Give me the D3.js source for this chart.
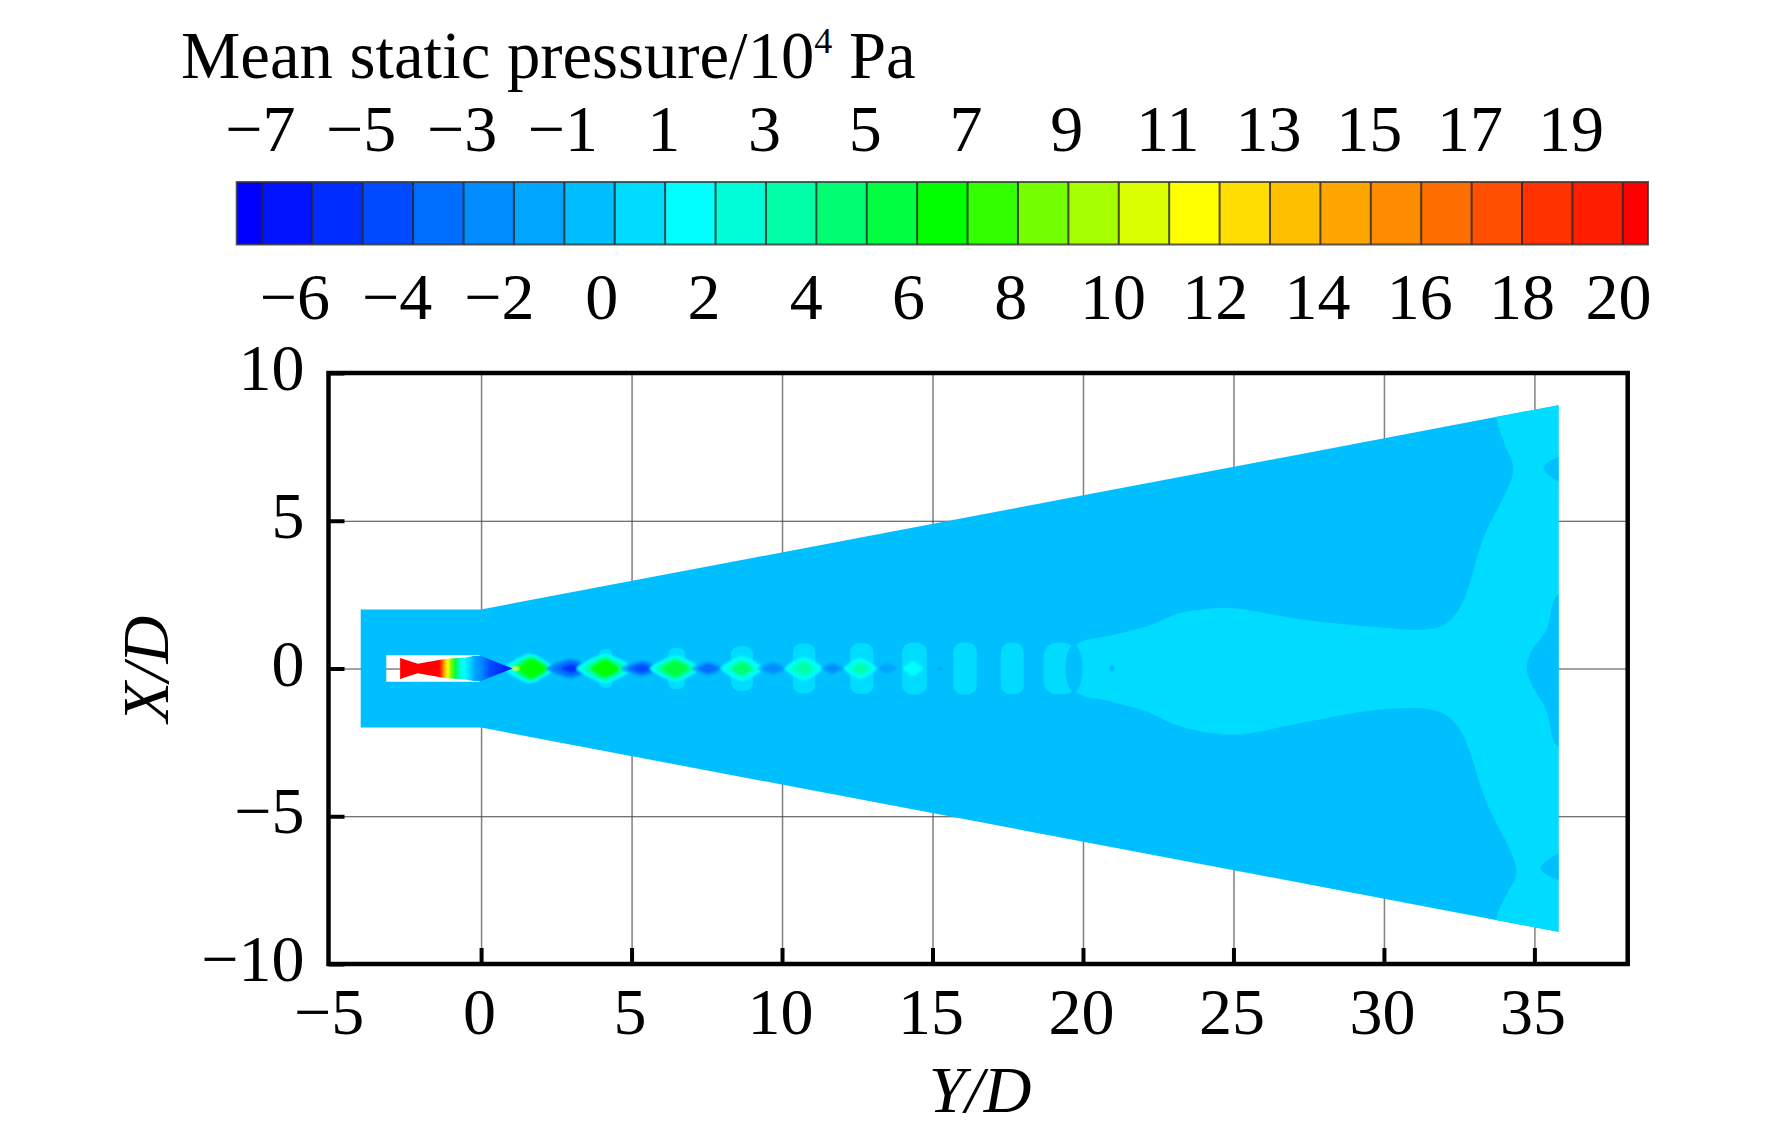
<!DOCTYPE html>
<html>
<head>
<meta charset="utf-8">
<script src="https://d3js.org/d3.v7.min.js"></script>
<style>
  html, body { margin: 0; padding: 0; background: #fff; }
  text { font-family: "Liberation Serif", serif; fill: #000; }
  .gridV line { stroke: #808080; stroke-width: 1.5; }
  .gridH line { stroke: #444; stroke-width: 1.1; }
  .ticks line { stroke: #000; stroke-width: 4; }
  .domain { display: none; }
</style>
</head>
<body>
<div id="chart"></div>
<script>
// colour bar: one colour per cell
const palette = ["#0000ff","#0014ff","#002dff","#004bff","#006eff","#008cff","#00a5ff","#00bfff","#00dcff","#00ffff",
  "#00ffd9","#00ffa6","#00ff73","#00ff40","#00ff00",
  "#33ff00","#73ff00","#a6ff00","#d9ff00","#ffff00","#ffdd00","#ffbf00","#ffa600","#ff8c00","#ff6e00","#ff4f00","#ff3200","#ff1e00","#ff0000"];
const levels = d3.range(-7, 21);
const oddLabels = [-7,-5,-3,-1,1,3,5,7,9,11,13,15,17,19];
const evenLabels = [-6,-4,-2,0,2,4,6,8,10,12,14,16,18,20];
const xTicks = [-5,0,5,10,15,20,25,30,35];
const yTicks = [-10,-5,0,5,10];

// flow domain outline, [Y/D, X/D]
const domainX = [-4, 0, 35.8];
const domainHalf = [2, 2, 8.91];
const nozzleCavity = [[-3.15,0.45],[-0.05,0.45],[-0.05,-0.45],[-3.15,-0.45]];

// nozzle jet: half width along the axis
const jetX = [-2.69,-2.62,-2.1,-1.36,-1.03,-0.5,-0.26,0,0.5,1.05];
const jetHalf = [0.36,0.33,0.16,0.3,0.34,0.37,0.42,0.42,0.22,0];
// nozzle jet: pressure level along the axis
const jetLevelX = [-1.4,-1.3,-1.2,-1.1,-1,-0.85,-0.7,-0.55,-0.4,-0.2,0,0.3,0.7,1.05];
const jetLevel = [20,17,13,11,8,5,2,1,0,-1.5,-3,-4.5,-6,-7];

// far field 0..1 region (level 0.5)
const lightTop = [[19.73,0.74],[21,1.13],[22.1,1.41],[23.2,1.87],[24,2.0],[24.9,2.05],[27.2,1.67],[29.8,1.4],[31.5,1.33],[32.1,1.55],[32.6,2.2],[33.3,4.4],[34.3,6.73],[34.05,7.5],[33.75,8.42],[33.75,9.6],[36.6,9.6]];
const lightBottom = [[36.6,-9.6],[33.75,-9.6],[33.75,-8.4],[34.1,-7.6],[34.4,-6.86],[33.4,-4.5],[32.6,-2.2],[32.1,-1.6],[31.5,-1.38],[29.8,-1.4],[27.2,-1.85],[24.95,-2.24],[23.2,-1.95],[22.1,-1.45],[21,-1.13],[19.73,-0.74]];
// low pressure pockets on the outlet (level -0.5)
const outletPockets = [
  [[36.4,2.46],[35.75,2.46],[35.4,1.3],[34.9,0.58],[34.74,0],[34.9,-0.52],[35.4,-1.43],[35.75,-2.6],[36.4,-2.6]],
  [[36.4,7.15],[35.8,7.15],[35.3,6.8],[35.8,6.34],[36.4,6.34]],
  [[36.4,-6.28],[35.8,-6.28],[35.2,-6.77],[35.8,-7.15],[36.4,-7.15]]
];

// shock cell lobes, level 0.5: centre, half width, half height
const lobes = [[1.75,0.22,0.47],[4.14,0.22,0.66],[6.5,0.28,0.7],[8.67,0.37,0.76],[10.73,0.37,0.85],[12.65,0.39,0.86],[14.4,0.41,0.88],[16.08,0.39,0.88],[17.65,0.38,0.87],[19.24,0.55,0.87]];
const innerPocket = [19.7, 0.28, 0.8];

// compression and expansion cores: centre, half width, half height, level
const cores = [
  [1.6,0.85,0.5,1.5],[1.65,0.65,0.42,4],[1.7,0.5,0.34,6.5],[1.15,0.12,0.05,11.5],
  [2.96,0.8,0.33,-2.5],[2.98,0.6,0.26,-4],[3,0.35,0.14,-6],
  [4.12,0.95,0.5,1],[4.12,0.75,0.42,3.5],[4.12,0.5,0.32,6],
  [5.34,0.7,0.3,-2],[5.34,0.5,0.22,-3.5],[5.34,0.3,0.13,-5],
  [6.45,0.85,0.45,1],[6.45,0.65,0.38,3],[6.45,0.45,0.28,5],
  [7.55,0.55,0.26,-2],[7.55,0.38,0.17,-3.5],
  [8.67,0.72,0.42,1],[8.67,0.55,0.34,2.5],[8.67,0.36,0.24,4.5],
  [9.7,0.5,0.22,-1.5],[9.7,0.34,0.14,-3],
  [10.72,0.65,0.4,1],[10.72,0.5,0.32,2.5],[10.72,0.3,0.2,3.5],
  [11.67,0.38,0.2,-1.5],[11.67,0.25,0.12,-2.5],
  [12.6,0.55,0.36,1],[12.6,0.42,0.28,2],[12.6,0.25,0.16,3],
  [13.5,0.3,0.18,-1.5],
  [14.35,0.33,0.25,1.5],
  [15.25,0.12,0.07,-1.5],[20.96,0.08,0.1,-1.5]
];

const svg = d3.select("#chart").append("svg")
  .attr("width", 1772)
  .attr("height", 1134)
  .style("display", "block");

const color = d3.scaleThreshold().domain(levels).range(palette);
const x = d3.scaleLinear().domain([-5.07, 38.1]).range([328.5, 1627.7]);
const y = d3.scaleLinear().domain([-10, 10]).range([964, 373]);
const cb = d3.scaleLinear().domain([-7.5, 20.5]).range([236.7, 1648]);
// the even labels of the colour bar sit a little left of their levels
const cbEven = d3.scaleLinear().domain([-6, 18, 20]).range([294.4, 1521.5, 1618]);

const defs = svg.append("defs");
[["soft", 0.7], ["blur", 1.2]].forEach(([id, sd]) => {
  defs.append("filter").attr("id", id)
    .attr("x", "-50%").attr("y", "-50%").attr("width", "200%").attr("height", "200%")
    .append("feGaussianBlur").attr("stdDeviation", sd);
});

// ---- title ----
const title = svg.append("text")
  .attr("x", 181).attr("y", 78)
  .style("font-size", "66.7px");
title.append("tspan").text("Mean static pressure/10");
title.append("tspan").attr("dy", -25).style("font-size", "36px").text("4");
title.append("tspan").attr("dy", 25).text(" Pa");

// ---- colour bar ----
const edges = [-7.5, ...levels, 20.5];
const bar = svg.append("g");
bar.selectAll("rect")
  .data(d3.pairs(edges))
  .join("rect")
    .attr("x", d => cb(d[0]))
    .attr("width", d => cb(d[1]) - cb(d[0]))
    .attr("y", 182)
    .attr("height", 62.5)
    .attr("fill", (d, i) => palette[i]);
bar.selectAll("line")
  .data(levels)
  .join("line")
    .attr("x1", d => cb(d)).attr("x2", d => cb(d))
    .attr("y1", 182).attr("y2", 244.5)
    .attr("stroke", "#222").attr("stroke-opacity", 0.8).attr("stroke-width", 2);
bar.append("rect")
  .attr("x", cb(-7.5)).attr("y", 182)
  .attr("width", cb(20.5) - cb(-7.5)).attr("height", 62.5)
  .attr("fill", "none").attr("stroke", "#333").attr("stroke-opacity", 0.8).attr("stroke-width", 2);

const cbTop = svg.append("g")
  .attr("transform", "translate(-2,151)")
  .call(d3.axisTop(cb).tickValues(oddLabels).tickSize(0).tickPadding(0));
cbTop.selectAll("text").attr("dy", 0).style("font-size", "66px").style("font-family", "Liberation Serif");
const cbBottom = svg.append("g")
  .attr("transform", "translate(0,318.5)")
  .call(d3.axisTop(cbEven).tickValues(evenLabels).tickSize(0).tickPadding(0));
cbBottom.selectAll("text").attr("dy", 0).style("font-size", "66px").style("font-family", "Liberation Serif");

// ---- grid under the field ----
svg.append("g").attr("class", "gridV")
  .attr("transform", "translate(0,964)")
  .call(d3.axisBottom(x).tickValues(xTicks.slice(1)).tickSize(-591).tickFormat(""));
svg.append("g").attr("class", "gridH")
  .attr("transform", "translate(328.5,0)")
  .call(d3.axisLeft(y).tickValues(yTicks.slice(1, -1)).tickSize(-1299.2).tickFormat(""));

// ---- pressure field ----
const line = d3.line().x(d => x(d[0])).y(d => y(d[1]));
const smooth = d3.line().x(d => x(d[0])).y(d => y(d[1])).curve(d3.curveCatmullRomClosed.alpha(0.5));
const closed = pts => line(pts) + "Z";
const outline = [
  ...domainX.map((d, i) => [d, domainHalf[i]]),
  ...domainX.map((d, i) => [d, -domainHalf[i]]).reverse()
];

defs.append("clipPath").attr("id", "domainClip")
  .append("path").attr("d", closed(outline));

svg.append("path")
  .attr("d", closed(outline) + closed(nozzleCavity))
  .attr("fill-rule", "evenodd")
  .attr("fill", color(-0.5));

const field = svg.append("g").attr("clip-path", "url(#domainClip)");
field.append("path")
  .attr("d", smooth([...lightTop, ...lightBottom]))
  .attr("fill", color(0.5));
field.selectAll(".pocket")
  .data(outletPockets)
  .join("path")
    .attr("class", "pocket")
    .attr("d", smooth)
    .attr("fill", color(-0.5));

const pxX = v => Math.abs(x(v) - x(0));
const pxY = v => Math.abs(y(v) - y(0));

const lobeLayer = svg.append("g").attr("filter", "url(#soft)");
lobeLayer.selectAll("rect")
  .data(lobes)
  .join("rect")
    .attr("x", d => x(d[0] - d[1]))
    .attr("y", d => y(d[2]))
    .attr("width", d => pxX(2 * d[1]))
    .attr("height", d => pxY(2 * d[2]))
    .attr("rx", d => pxX(d[1]) * 0.8)
    .attr("ry", d => pxX(d[1]) * 0.8)
    .attr("fill", color(0.5));
lobeLayer.append("ellipse")
  .attr("cx", x(innerPocket[0])).attr("cy", y(0))
  .attr("rx", pxX(innerPocket[1])).attr("ry", pxY(innerPocket[2]))
  .attr("fill", color(-0.5));

// diamond shaped cores, rounded by the curve
const diamond = d3.line().curve(d3.curveCardinalClosed.tension(0.4));
const jetLayer = svg.append("g").attr("filter", "url(#blur)");
jetLayer.selectAll("path")
  .data(cores)
  .join("path")
    .attr("d", d => diamond([
      [x(d[0] - d[1]), y(0)], [x(d[0]), y(d[2])],
      [x(d[0] + d[1]), y(0)], [x(d[0]), y(-d[2])]
    ]))
    .attr("fill", d => color(d[3]));

// nozzle jet, coloured along the axis
const jetGrad = defs.append("linearGradient").attr("id", "jetGrad")
  .attr("gradientUnits", "userSpaceOnUse")
  .attr("x1", x(-1.4)).attr("x2", x(1.05)).attr("y1", 0).attr("y2", 0);
jetGrad.selectAll("stop")
  .data(jetLevelX)
  .join("stop")
    .attr("offset", d => (d + 1.4) / 2.45)
    .attr("stop-color", (d, i) => color(jetLevel[i]));
svg.append("path")
  .datum(jetX.map((d, i) => [d, jetHalf[i]]))
  .attr("d", d3.area().x(d => x(d[0])).y0(d => y(-d[1])).y1(d => y(d[1])))
  .attr("fill", "url(#jetGrad)")
  .attr("filter", "url(#soft)");

// ---- axes and frame ----
const xAxis = svg.append("g").attr("class", "ticks")
  .attr("transform", "translate(0,964)")
  .call(d3.axisBottom(x).tickValues(xTicks).tickSizeInner(-16).tickSizeOuter(0).tickPadding(23));
xAxis.selectAll("text").attr("dx", -2).style("font-size", "66px").style("font-family", "Liberation Serif");
xAxis.selectAll(".tick").filter(d => d === -5).select("line").remove();
const yAxis = svg.append("g").attr("class", "ticks")
  .attr("transform", "translate(328.5,0)")
  .call(d3.axisLeft(y).tickValues(yTicks).tickSizeInner(-16).tickSizeOuter(0).tickPadding(24));
yAxis.selectAll("text").attr("dy", "0.25em").style("font-size", "66px").style("font-family", "Liberation Serif");

svg.append("rect")
  .attr("x", 328.5).attr("y", 373)
  .attr("width", 1299.2).attr("height", 591)
  .attr("fill", "none").attr("stroke", "#000").attr("stroke-width", 4.5);

svg.append("text")
  .attr("x", 980).attr("y", 1112)
  .attr("text-anchor", "middle")
  .style("font-size", "66px").style("font-style", "italic")
  .text("Y/D");
svg.append("text")
  .attr("transform", "translate(167.5,669) rotate(-90)")
  .attr("text-anchor", "middle")
  .style("font-size", "66px").style("font-style", "italic")
  .text("X/D");
</script>
</body>
</html>
